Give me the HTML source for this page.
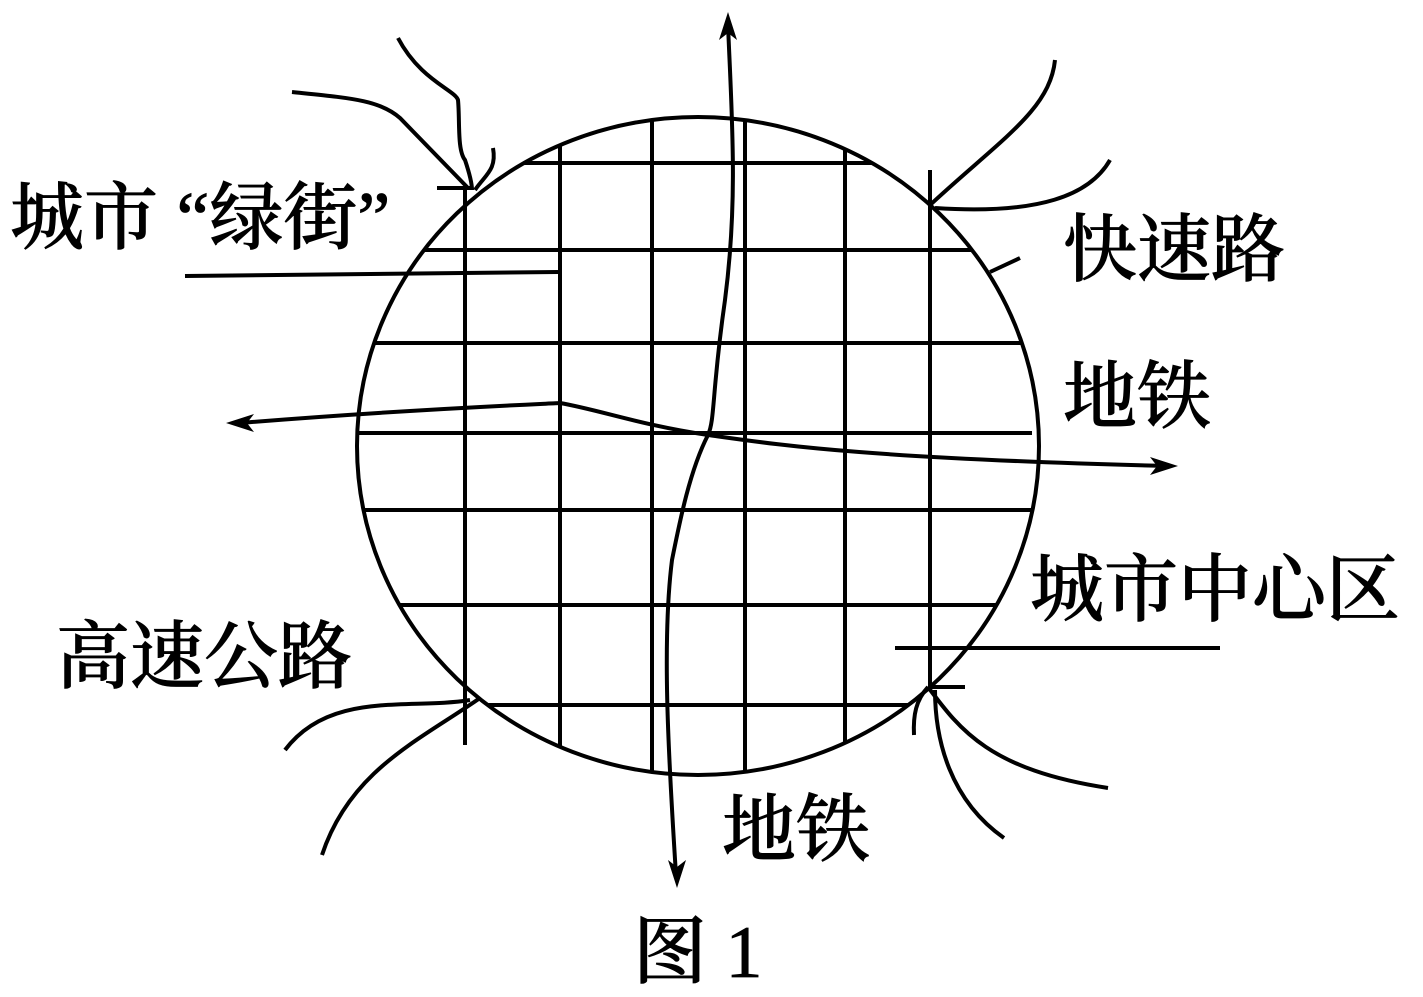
<!DOCTYPE html>
<html><head><meta charset="utf-8"><style>
html,body{margin:0;padding:0;background:#fff;width:1423px;height:997px;overflow:hidden}
svg{position:absolute;left:0;top:0}
.t{font-family:"Liberation Serif","Noto Serif CJK SC",serif;font-size:74px;font-weight:500;fill:#000;stroke:#000;stroke-width:0.8px}
</style></head><body>
<svg width="1423" height="997" viewBox="0 0 1423 997">
<defs><clipPath id="c"><ellipse cx="698" cy="446" rx="341" ry="329"/></clipPath></defs>
<g stroke="#000" stroke-width="4" fill="none">
<ellipse cx="698" cy="446" rx="341" ry="329"/>
<g clip-path="url(#c)">
<line x1="560" y1="0" x2="560" y2="997"/>
<line x1="652" y1="0" x2="652" y2="997"/>
<line x1="745" y1="0" x2="745" y2="997"/>
<line x1="845" y1="0" x2="845" y2="997"/>
<line x1="0" y1="163" x2="880" y2="163"/>
<line x1="0" y1="250" x2="975" y2="250"/>
<line x1="0" y1="343" x2="1400" y2="343"/>
<line x1="0" y1="433" x2="1032" y2="433"/>
<line x1="0" y1="510" x2="1400" y2="510"/>
<line x1="0" y1="605" x2="1400" y2="605"/>
<line x1="0" y1="705" x2="1400" y2="705"/>
</g>
<line x1="465" y1="188" x2="465" y2="745"/>
<line x1="437" y1="188" x2="470" y2="188"/>
<line x1="930" y1="170" x2="930" y2="687"/>
<line x1="928" y1="687" x2="965" y2="687"/>
<line x1="185" y1="276" x2="558" y2="272"/>
<line x1="895" y1="648" x2="1220" y2="648"/>
<line x1="990" y1="272" x2="1020" y2="258"/>
<path d="M398,38 C420,80 455,90 458,100 C460,120 457,150 465,160 C470,175 472,185 472,190"/>
<path d="M292,92 C350,98 380,100 400,118 L468,188"/>
<path d="M493,148 C497,170 485,175 475,190"/>
<path d="M1055,60 C1050,110 1000,140 930,205"/>
<path d="M1110,160 C1090,195 1040,215 935,208"/>
<path d="M285,750 C330,690 410,710 470,700"/>
<path d="M322,855 C350,770 420,740 480,698"/>
<path d="M928,687 C960,730 990,770 1108,788"/>
<path d="M935,690 C935,740 950,800 1004,838"/>
<path d="M928,687 C916,700 913,715 914,735"/>
<path d="M728,25 C732,120 738,200 725,300 C712,390 715,420 708,435 C690,470 680,520 672,560 C662,640 668,750 676,875"/>
<path d="M240,423 C400,410 520,405 560,403 C600,410 640,425 708,435 C780,445 860,458 1165,466"/>
</g>
<g fill="#000">
<polygon points="728,12 719,40 728,33 737,40"/>
<polygon points="677,888 668,860 677,867 686,860"/>
<polygon points="226,423 254,414 247,423 254,432"/>
<polygon points="1178,466 1150,457 1157,466 1150,475"/>
</g>
<text class="t" x="10" y="243">城市 “绿街”</text>
<text class="t" x="1063" y="275">快速路</text>
<text class="t" x="1063" y="422">地铁</text>
<text class="t" x="1030" y="615">城市中心区</text>
<text class="t" x="56" y="682">高速公路</text>
<text class="t" x="722" y="855">地铁</text>
<text class="t" x="633" y="977">图 1</text>
</svg>
</body></html>
